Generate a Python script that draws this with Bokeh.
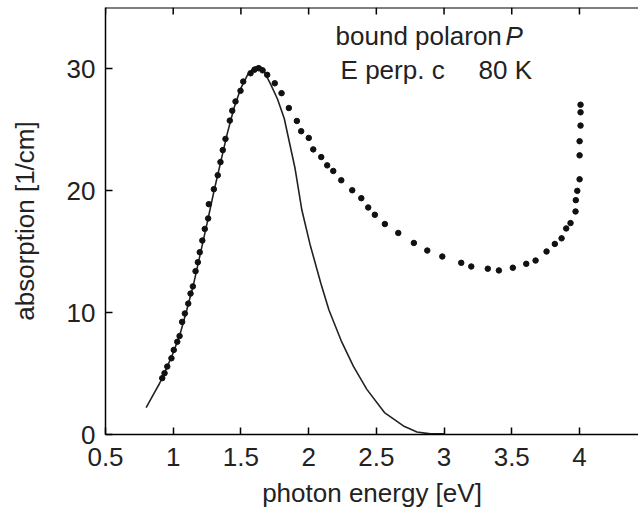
from bokeh.plotting import figure
from bokeh.models import Range1d, FixedTicker, Label, Span
from bokeh.embed import file_html
from bokeh.resources import INLINE

# measured absorption (dots)
meas_x = [0.919, 0.936, 0.956, 0.987, 1.004, 1.030, 1.047, 1.066, 1.086, 1.111,
          1.128, 1.145, 1.165, 1.182, 1.196, 1.215, 1.233, 1.258, 1.263, 1.300,
          1.329, 1.349, 1.366, 1.386, 1.418, 1.436, 1.460, 1.497, 1.517, 1.571,
          1.600, 1.632, 1.660, 1.694, 1.750, 1.800, 1.854, 1.913, 1.945, 2.001,
          2.034, 2.093, 2.137, 2.182, 2.241, 2.322, 2.389, 2.440, 2.489, 2.563,
          2.662, 2.777, 2.876, 2.987, 3.127, 3.201, 3.323, 3.405, 3.508, 3.607,
          3.676, 3.757, 3.818, 3.868, 3.902, 3.934, 3.971, 3.973, 3.984, 4.001,
          4.001, 4.001, 4.008, 4.008, 4.008]
meas_y = [4.62, 5.03, 5.57, 6.25, 6.93, 7.60, 8.07, 9.23, 9.92, 10.73,
          11.55, 12.14, 13.39, 14.12, 14.94, 15.90, 16.85, 17.71, 18.88, 20.11,
          21.25, 22.33, 23.31, 24.23, 25.73, 26.54, 27.30, 28.17, 28.93, 29.61,
          29.90, 30.02, 29.85, 29.48, 28.79, 27.98, 26.76, 25.70, 24.86, 24.31,
          23.37, 22.74, 22.06, 21.60, 20.84, 20.02, 19.37, 18.61, 18.01, 17.25,
          16.52, 15.70, 15.08, 14.59, 14.07, 13.77, 13.59, 13.45, 13.67, 13.99,
          14.26, 15.00, 15.62, 16.08, 16.89, 17.33, 18.28, 19.21, 19.97, 20.92,
          22.88, 24.04, 25.32, 26.41, 27.03]

# fitted bound-polaron band (solid line)
fit_x = [0.80, 0.85, 0.90, 0.95, 1.00, 1.05, 1.10, 1.15, 1.20, 1.25, 1.30,
         1.35, 1.40, 1.45, 1.50, 1.55, 1.60, 1.63, 1.66, 1.72, 1.77, 1.82,
         1.90, 1.95, 2.01, 2.09, 2.15, 2.24, 2.33, 2.43, 2.56, 2.70, 2.80,
         2.90, 3.00]
fit_y = [2.2, 3.2, 4.2, 5.4, 6.7, 8.2, 10.2, 12.3, 14.8, 17.3, 19.9,
         22.3, 24.7, 26.8, 28.4, 29.5, 30.1, 30.2, 30.0, 28.7, 27.5, 25.9,
         21.8, 18.4, 15.6, 12.4, 10.2, 7.7, 5.6, 3.7, 1.8, 0.7, 0.2,
         0.05, 0.05]

x_ticks = [0.5, 1, 1.5, 2, 2.5, 3, 3.5, 4]
y_ticks = [0, 10, 20, 30]
y_top = 35

FONT = "Liberation Sans"
TXT = "#222222"
FS = "26px"

FRAME_H = 427
p = figure(width=638, height=515, output_backend="svg", toolbar_location=None,
           x_range=Range1d(0.5, 4.436), y_range=Range1d(0, y_top),
           min_border_left=105, min_border_right=0, min_border_top=7,
           min_border_bottom=81, x_axis_label="photon energy [eV]",
           y_axis_label="absorption [1/cm]")
p.outline_line_color = None
p.grid.visible = False
p.background_fill_color = "white"
p.border_fill_color = "white"

for ax in (p.xaxis[0], p.yaxis[0]):
    ax.major_tick_in = 7
    ax.major_tick_out = 0
    ax.minor_tick_line_color = None
    ax.axis_line_color = "black"
    ax.axis_line_width = 1.5
    ax.major_tick_line_width = 1.5
    ax.major_label_text_font = FONT
    ax.major_label_text_font_size = FS
    ax.major_label_text_color = TXT
    ax.axis_label_text_font = FONT
    ax.axis_label_text_font_size = FS
    ax.axis_label_text_font_style = "normal"
    ax.axis_label_text_color = TXT

p.xaxis[0].ticker = FixedTicker(ticks=x_ticks)
p.yaxis[0].ticker = FixedTicker(ticks=y_ticks)
p.xaxis[0].major_label_standoff = 13
p.yaxis[0].major_label_standoff = 10
p.xaxis[0].axis_label_standoff = 9
p.yaxis[0].axis_label_standoff = 24

# top spine with inward ticks (no labels)
p.add_layout(Span(location=y_top, dimension="width", line_color="black", line_width=2))
tick_len = 7 * y_top / FRAME_H
p.segment(x0=x_ticks, y0=[y_top] * len(x_ticks), x1=x_ticks,
          y1=[y_top - tick_len] * len(x_ticks), line_color="black", line_width=1.5)

p.line(fit_x, fit_y, line_color="#222222", line_width=1.6)
p.scatter(meas_x, meas_y, size=5.5, fill_color="#111111", line_color="#111111")

p.add_layout(Label(x=2.199, y=31.45, text="bound polaron", text_font=FONT,
                   text_font_size=FS, text_color=TXT))
p.add_layout(Label(x=3.454, y=31.45, text="P", text_font=FONT,
                   text_font_size=FS, text_font_style="italic", text_color=TXT))
p.add_layout(Label(x=2.236, y=28.65, text="E perp. c", text_font=FONT,
                   text_font_size=FS, text_color=TXT))
p.add_layout(Label(x=3.255, y=28.65, text="80 K", text_font=FONT,
                   text_font_size=FS, text_color=TXT))

open("out.html", "w").write(file_html(p, INLINE))
